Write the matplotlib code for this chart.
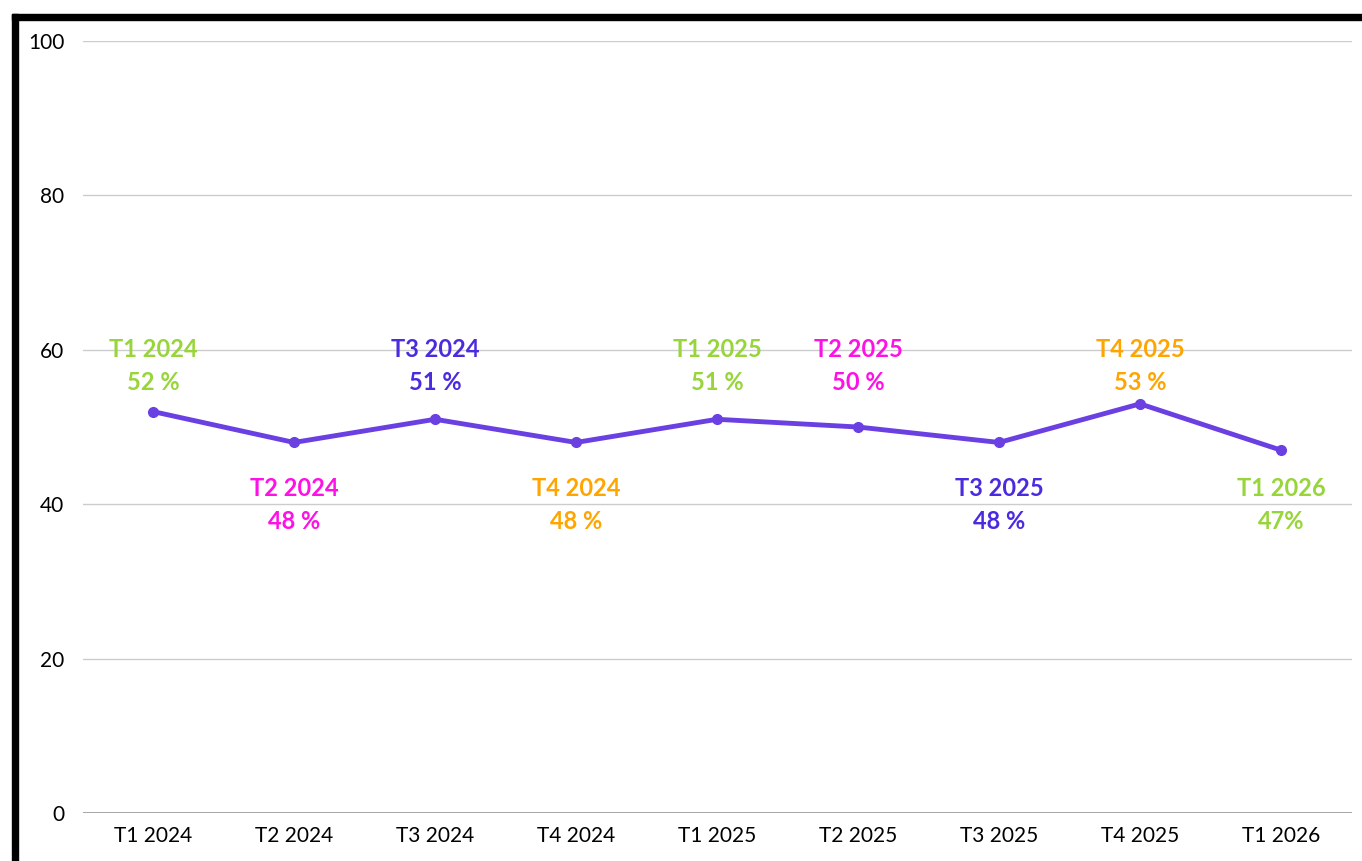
import matplotlib
matplotlib.use("Agg")
import matplotlib.pyplot as plt
from matplotlib.patches import Rectangle

# quarterly values (%)
quarters = ["T1 2024", "T2 2024", "T3 2024", "T4 2024", "T1 2025",
            "T2 2025", "T3 2025", "T4 2025", "T1 2026"]
values = [52, 48, 51, 48, 51, 50, 48, 53, 47]
value_labels = ["52 %", "48 %", "51 %", "48 %", "51 %", "50 %", "48 %", "53 %", "47%"]
label_above = [True, False, True, False, True, True, False, True, False]
label_colors = ["#97D53A", "#FF10E6", "#4B2BE0", "#FFA500", "#97D53A",
                "#FF10E6", "#4B2BE0", "#FFA500", "#97D53A"]

LINE_COLOR = "#6B40E3"
FONT = ["Lato", "DejaVu Sans"]

fig = plt.figure(figsize=(13.62, 8.61), dpi=100)
ax = fig.add_axes([0.0606, 0.0557, 0.9317, 0.8967])

x = list(range(len(quarters)))
ax.plot(x, values, color=LINE_COLOR, lw=3.5, marker="o", ms=7, zorder=3)

for i, (q, lab) in enumerate(zip(quarters, value_labels)):
    if label_above[i]:
        y1, y2 = 60.0, 55.8
    else:
        y1, y2 = 42.0, 37.8
    ax.text(i, y1, q, ha="center", va="center", color=label_colors[i],
            fontsize=17, fontweight="bold", family=FONT)
    ax.text(i, y2, lab, ha="center", va="center", color=label_colors[i],
            fontsize=17, fontweight="bold", family=FONT)

ax.set_xlim(-0.5, len(quarters) - 0.5)
ax.set_ylim(0, 100)
ax.set_yticks(range(0, 101, 20))
ax.set_xticks(x)
ax.set_xticklabels(quarters)
for lbl in ax.get_xticklabels() + ax.get_yticklabels():
    lbl.set_family(FONT)
    lbl.set_fontsize(15)
ax.tick_params(length=0)
ax.tick_params(axis="y", pad=13)
ax.tick_params(axis="x", pad=9)
ax.grid(axis="y", color="#cccccc", lw=1)
ax.set_axisbelow(True)
for s in ax.spines.values():
    s.set_visible(False)
ax.axhline(0, color="#999999", lw=1.2, zorder=1)

# thick black frame at top and left of figure
fig.add_artist(Rectangle((12 / 1362, 0), 6 / 1362, 847 / 861,
                         transform=fig.transFigure, color="black"))
fig.add_artist(Rectangle((12 / 1362, 841 / 861), 1350 / 1362, 6 / 861,
                         transform=fig.transFigure, color="black"))

fig.savefig("out.png", dpi=100)
